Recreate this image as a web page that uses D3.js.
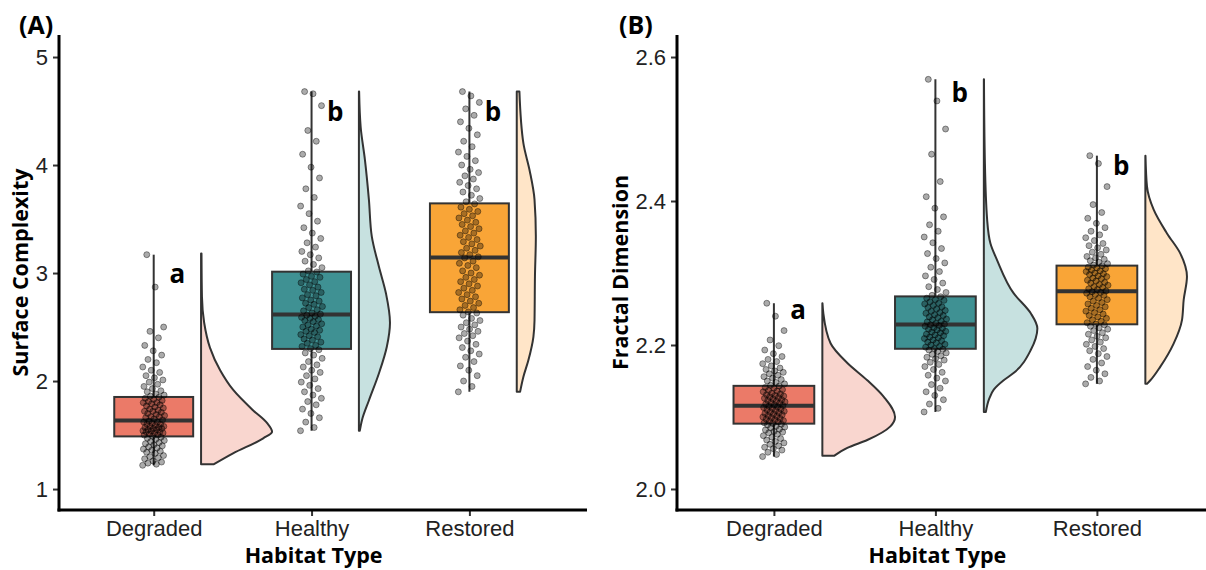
<!DOCTYPE html>
<html>
<head>
<meta charset="utf-8">
<script src="https://cdn.jsdelivr.net/npm/d3@7"></script>
<style>
  body { margin: 0; background: #fff; }
  svg { display: block; font-family: "Open Sans", "Noto Sans", sans-serif; }
</style>
</head>
<body>
<div id="chart"></div>
<script>
// categories on x
const categories = ['Degraded', 'Healthy', 'Restored'];

// (A) surface complexity, one value per sample
const complexityDegraded = [
  1.22, 1.23, 1.24, 1.25, 1.26, 1.28, 1.29, 1.30, 1.31, 1.33, 1.34, 1.35, 1.36, 1.37, 1.38, 1.39, 1.40, 1.41, 1.42, 1.43, 1.44, 1.45, 1.46, 1.47, 1.48,
  1.49, 1.50, 1.50, 1.51, 1.52, 1.52, 1.53, 1.53, 1.54, 1.54, 1.55, 1.55, 1.56, 1.56, 1.57, 1.57, 1.58, 1.58, 1.59, 1.60, 1.60, 1.61, 1.62, 1.62, 1.63,
  1.64, 1.65, 1.66, 1.67, 1.67, 1.68, 1.69, 1.70, 1.71, 1.72, 1.72, 1.73, 1.74, 1.75, 1.76, 1.77, 1.78, 1.79, 1.80, 1.80, 1.81, 1.82, 1.83, 1.84, 1.85,
  1.86, 1.87, 1.88, 1.90, 1.91, 1.93, 1.95, 1.97, 1.99, 2.01, 2.03, 2.05, 2.08, 2.10, 2.13, 2.17, 2.20, 2.24, 2.28, 2.33, 2.40, 2.46, 2.50, 2.87, 3.17
];
const complexityHealthy = [
  1.54, 1.57, 1.62, 1.66, 1.70, 1.74, 1.78, 1.81, 1.84, 1.87, 1.90, 1.93, 1.96, 1.99, 2.02, 2.05, 2.08, 2.10, 2.13, 2.15, 2.18, 2.21, 2.24, 2.26, 2.29,
  2.30, 2.32, 2.33, 2.35, 2.36, 2.38, 2.39, 2.41, 2.42, 2.43, 2.45, 2.46, 2.47, 2.48, 2.50, 2.51, 2.52, 2.53, 2.55, 2.56, 2.57, 2.58, 2.59, 2.60, 2.61,
  2.62, 2.63, 2.65, 2.66, 2.68, 2.69, 2.71, 2.72, 2.74, 2.75, 2.77, 2.79, 2.80, 2.82, 2.84, 2.85, 2.87, 2.89, 2.91, 2.92, 2.94, 2.96, 2.97, 2.99, 3.01,
  3.02, 3.05, 3.08, 3.11, 3.14, 3.17, 3.20, 3.24, 3.28, 3.32, 3.37, 3.42, 3.48, 3.55, 3.62, 3.70, 3.78, 3.88, 3.98, 4.10, 4.22, 4.32, 4.55, 4.66, 4.68
];
const complexityRestored = [
  1.90, 1.95, 2.00, 2.05, 2.10, 2.14, 2.18, 2.22, 2.25, 2.28, 2.31, 2.34, 2.37, 2.40, 2.42, 2.44, 2.46, 2.48, 2.50, 2.52, 2.54, 2.56, 2.58, 2.61, 2.63,
  2.64, 2.66, 2.68, 2.70, 2.72, 2.74, 2.76, 2.78, 2.80, 2.82, 2.84, 2.86, 2.88, 2.90, 2.92, 2.94, 2.96, 2.98, 3.00, 3.02, 3.05, 3.07, 3.09, 3.11, 3.14,
  3.15, 3.17, 3.19, 3.21, 3.23, 3.25, 3.27, 3.29, 3.31, 3.33, 3.35, 3.37, 3.39, 3.41, 3.43, 3.45, 3.47, 3.49, 3.51, 3.53, 3.55, 3.57, 3.59, 3.61, 3.64,
  3.66, 3.69, 3.72, 3.75, 3.78, 3.81, 3.84, 3.87, 3.90, 3.93, 3.96, 4.00, 4.04, 4.08, 4.12, 4.17, 4.22, 4.28, 4.34, 4.40, 4.46, 4.52, 4.58, 4.64, 4.68
];

// (B) fractal dimension, one value per sample
const fractalDegraded = [
  2.045, 2.048, 2.051, 2.054, 2.056, 2.058, 2.060, 2.062, 2.064, 2.066, 2.068, 2.070, 2.072, 2.074, 2.076, 2.078, 2.079, 2.080, 2.082, 2.083, 2.085, 2.086, 2.087, 2.089, 2.090,
  2.091, 2.092, 2.093, 2.094, 2.095, 2.096, 2.097, 2.098, 2.099, 2.100, 2.101, 2.102, 2.103, 2.104, 2.105, 2.106, 2.107, 2.108, 2.109, 2.110, 2.111, 2.112, 2.113, 2.114, 2.115,
  2.116, 2.117, 2.118, 2.119, 2.120, 2.121, 2.122, 2.123, 2.124, 2.125, 2.126, 2.127, 2.128, 2.129, 2.130, 2.131, 2.132, 2.133, 2.135, 2.136, 2.137, 2.138, 2.140, 2.141, 2.143,
  2.144, 2.146, 2.148, 2.150, 2.152, 2.154, 2.156, 2.158, 2.160, 2.162, 2.164, 2.166, 2.168, 2.171, 2.174, 2.177, 2.180, 2.184, 2.188, 2.193, 2.199, 2.207, 2.220, 2.240, 2.258
];
const fractalHealthy = [
  2.107, 2.112, 2.118, 2.124, 2.130, 2.135, 2.140, 2.145, 2.150, 2.154, 2.158, 2.162, 2.166, 2.170, 2.173, 2.176, 2.179, 2.181, 2.183, 2.185, 2.187, 2.189, 2.191, 2.193, 2.194,
  2.195, 2.197, 2.198, 2.200, 2.201, 2.203, 2.204, 2.206, 2.207, 2.209, 2.210, 2.211, 2.213, 2.214, 2.215, 2.217, 2.218, 2.219, 2.221, 2.222, 2.223, 2.224, 2.226, 2.227, 2.228,
  2.229, 2.230, 2.232, 2.233, 2.235, 2.236, 2.238, 2.239, 2.241, 2.242, 2.244, 2.245, 2.247, 2.248, 2.250, 2.252, 2.253, 2.255, 2.257, 2.258, 2.260, 2.262, 2.263, 2.265, 2.267,
  2.269, 2.273, 2.277, 2.281, 2.286, 2.291, 2.296, 2.302, 2.308, 2.314, 2.320, 2.327, 2.334, 2.342, 2.350, 2.358, 2.367, 2.378, 2.390, 2.406, 2.427, 2.465, 2.500, 2.539, 2.569
];
const fractalRestored = [
  2.146, 2.150, 2.155, 2.160, 2.165, 2.170, 2.175, 2.180, 2.184, 2.188, 2.192, 2.195, 2.198, 2.201, 2.204, 2.207, 2.210, 2.212, 2.215, 2.217, 2.220, 2.222, 2.224, 2.226, 2.228,
  2.229, 2.231, 2.233, 2.235, 2.237, 2.239, 2.241, 2.243, 2.245, 2.247, 2.249, 2.251, 2.253, 2.255, 2.257, 2.259, 2.261, 2.263, 2.265, 2.267, 2.269, 2.270, 2.272, 2.273, 2.274,
  2.275, 2.277, 2.278, 2.280, 2.281, 2.283, 2.284, 2.286, 2.287, 2.289, 2.290, 2.292, 2.293, 2.295, 2.296, 2.298, 2.299, 2.300, 2.302, 2.303, 2.304, 2.306, 2.307, 2.308, 2.310,
  2.311, 2.313, 2.315, 2.317, 2.319, 2.321, 2.323, 2.326, 2.329, 2.332, 2.335, 2.338, 2.341, 2.345, 2.349, 2.353, 2.358, 2.363, 2.369, 2.376, 2.384, 2.395, 2.420, 2.452, 2.463
];

// density curves: [value, density]
const complexityDensityDegraded = [[1.23, 0.29], [1.33, 0.72], [1.47, 1.40], [1.53, 1.60], [1.61, 1.49], [1.73, 1.17], [1.92, 0.72], [2.10, 0.43], [2.31, 0.20], [2.54, 0.07], [2.78, 0.02], [3.18, 0.01]];
const complexityDensityHealthy = [[1.54, 0.02], [1.64, 0.07], [1.82, 0.225], [2.07, 0.45], [2.32, 0.63], [2.54, 0.70], [2.81, 0.61], [3.06, 0.45], [3.34, 0.29], [3.68, 0.225], [4.05, 0.135], [4.35, 0.04], [4.68, 0.005]];
const complexityDensityRestored = [[1.90, 0.075], [2.04, 0.15], [2.19, 0.26], [2.41, 0.375], [2.56, 0.40], [2.97, 0.41], [3.34, 0.43], [3.68, 0.40], [3.95, 0.29], [4.20, 0.15], [4.68, 0.06]];
const fractalDensityDegraded = [[2.046, 1.77], [2.057, 3.78], [2.068, 6.8], [2.087, 10.3], [2.100, 11.0], [2.128, 9.3], [2.151, 6.8], [2.175, 3.78], [2.202, 1.26], [2.244, 0.15], [2.258, 0.02]];
const fractalDensityHealthy = [[2.107, 0.3], [2.125, 0.8], [2.138, 1.5], [2.151, 3.0], [2.161, 4.5], [2.193, 7.1], [2.223, 8.1], [2.244, 7.1], [2.272, 4.5], [2.318, 2.0], [2.341, 1.0], [2.374, 0.5], [2.457, 0.15], [2.569, 0.02]];
const fractalDensityRestored = [[2.146, 0.25], [2.151, 0.76], [2.170, 2.27], [2.202, 4.28], [2.235, 5.55], [2.2625, 5.8], [2.295, 6.3], [2.327, 5.3], [2.355, 3.28], [2.388, 1.26], [2.420, 0.25], [2.463, 0.02]];

// significance letters and the value where each sits
const complexityLetters = ['a', 'b', 'b'];
const complexityLetterAt = [2.91, 4.41, 4.41];
const fractalLetters = ['a', 'b', 'b'];
const fractalLetterAt = [2.236, 2.537, 2.436];

// tick labels
const complexityTicks = [1, 2, 3, 4, 5];
const fractalTicks = [2.0, 2.2, 2.4, 2.6];

const boxColors = ['#EB7A68', '#3F9193', '#F9A537'];
const slabColors = ['#F9D6CF', '#C7E1E0', '#FFE5C8'];
const lineColor = '#333333';

const W = 1206, H = 570;
const svg = d3.select('#chart').append('svg').attr('width', W).attr('height', H);

function drawPanel(p) {
    const g = svg.append('g');
    const top = 35, bottom = 510;

    // discrete x: 0.6 steps padding left, a bit more on the right for the slabs
    const x = d3.scaleLinear().domain([-0.6, 2.745]).range([p.left, p.right]);
    const step = x(1) - x(0);
    const y = d3.scaleLinear().domain(p.yDomain).range([bottom, top]);
    const dens = d3.scaleLinear().domain([0, p.densMax]).range([0, 0.45 * step]);

    p.series.forEach((vals, i) => {
        const cx = x(i);
        const sorted = vals.slice().sort(d3.ascending);

        // half violin
        const base = cx + 0.3 * step;
        const area = d3.area()
            .curve(d3.curveMonotoneY)
            .y(d => y(d[0]))
            .x0(base)
            .x1(d => base + dens(d[1]));
        g.append('path')
            .datum(p.density[i])
            .attr('d', area)
            .attr('fill', slabColors[i])
            .attr('stroke', lineColor)
            .attr('stroke-width', 2)
            .attr('stroke-linejoin', 'round');

        // box + whisker
        const q1 = d3.quantile(sorted, 0.25), q2 = d3.quantile(sorted, 0.5), q3 = d3.quantile(sorted, 0.75);
        g.append('line')
            .attr('x1', cx).attr('x2', cx)
            .attr('y1', y(d3.min(sorted))).attr('y2', y(d3.max(sorted)))
            .attr('stroke', lineColor).attr('stroke-width', 2);
        const bw = 0.25 * step;
        g.append('rect')
            .attr('x', cx - bw).attr('width', 2 * bw)
            .attr('y', y(q3)).attr('height', y(q1) - y(q3))
            .attr('fill', boxColors[i])
            .attr('stroke', lineColor).attr('stroke-width', 2);
        g.append('line')
            .attr('x1', cx - bw).attr('x2', cx + bw)
            .attr('y1', y(q2)).attr('y2', y(q2))
            .attr('stroke', lineColor).attr('stroke-width', 4);

        // jittered raw points (spread by a fixed golden-ratio sequence)
        g.append('g').selectAll('circle')
            .data(vals)
            .join('circle')
            .attr('cx', (d, j) => cx + (((j * 0.618034) % 1) - 0.5) * 0.14 * step)
            .attr('cy', d => y(d))
            .attr('r', 3)
            .attr('fill', 'rgba(0,0,0,0.33)')
            .attr('stroke', 'rgba(0,0,0,0.4)')
            .attr('stroke-width', 1);

        g.append('text')
            .attr('x', cx + 0.15 * step)
            .attr('y', y(p.letterAt[i]))
            .attr('text-anchor', 'middle')
            .attr('font-size', 26)
            .attr('font-weight', 'bold')
            .attr('fill', '#000')
            .text(p.letters[i]);
    });

    // axes
    const yAxis = g.append('g')
        .attr('transform', `translate(${p.left},0)`)
        .call(d3.axisLeft(y).tickValues(p.ticks).tickFormat(p.fmt).tickSize(6).tickPadding(5));
    const xAxis = g.append('g')
        .attr('transform', `translate(0,${bottom})`)
        .call(d3.axisBottom(x).tickValues([0, 1, 2]).tickFormat(i => categories[i]).tickSize(6).tickPadding(4));
    [yAxis, xAxis].forEach(a => {
        a.select('.domain').remove();
        a.selectAll('.tick line').attr('stroke', lineColor).attr('stroke-width', 2);
        a.selectAll('.tick text').attr('font-size', 22).attr('fill', '#222').attr('font-family', null);
    });
    g.append('line')
        .attr('x1', p.left).attr('x2', p.left).attr('y1', top).attr('y2', bottom + 1.5)
        .attr('stroke', '#000').attr('stroke-width', 3);
    g.append('line')
        .attr('x1', p.left - 1.5).attr('x2', p.right).attr('y1', bottom).attr('y2', bottom)
        .attr('stroke', '#000').attr('stroke-width', 3);

    // titles
    g.append('text')
        .attr('x', x(1) + 2).attr('y', 563)
        .attr('text-anchor', 'middle')
        .attr('font-size', 21.5).attr('font-weight', 'bold')
        .text('Habitat Type');
    g.append('text')
        .attr('transform', `translate(${p.titleX},${(top + bottom) / 2}) rotate(-90)`)
        .attr('text-anchor', 'middle')
        .attr('font-size', 21.5).attr('font-weight', 'bold')
        .text(p.yTitle);
    g.append('text')
        .attr('x', p.tagX).attr('y', 34)
        .attr('font-size', 25).attr('font-weight', 'bold')
        .text(p.tag);
}

drawPanel({
    left: 59, right: 587,
    yDomain: [0.806, 5.204],
    densMax: 1.6,
    series: [complexityDegraded, complexityHealthy, complexityRestored],
    density: [complexityDensityDegraded, complexityDensityHealthy, complexityDensityRestored],
    letters: complexityLetters, letterAt: complexityLetterAt,
    ticks: complexityTicks, fmt: d3.format('d'),
    yTitle: 'Surface Complexity', titleX: 28, tag: '(A)', tagX: 19
});

drawPanel({
    left: 677, right: 677 + 3.345 * 161.5,
    yDomain: [1.9708, 2.6306],
    densMax: 11,
    series: [fractalDegraded, fractalHealthy, fractalRestored],
    density: [fractalDensityDegraded, fractalDensityHealthy, fractalDensityRestored],
    letters: fractalLetters, letterAt: fractalLetterAt,
    ticks: fractalTicks, fmt: d3.format('.1f'),
    yTitle: 'Fractal Dimension', titleX: 628, tag: '(B)', tagX: 619
});
</script>
</body>
</html>
